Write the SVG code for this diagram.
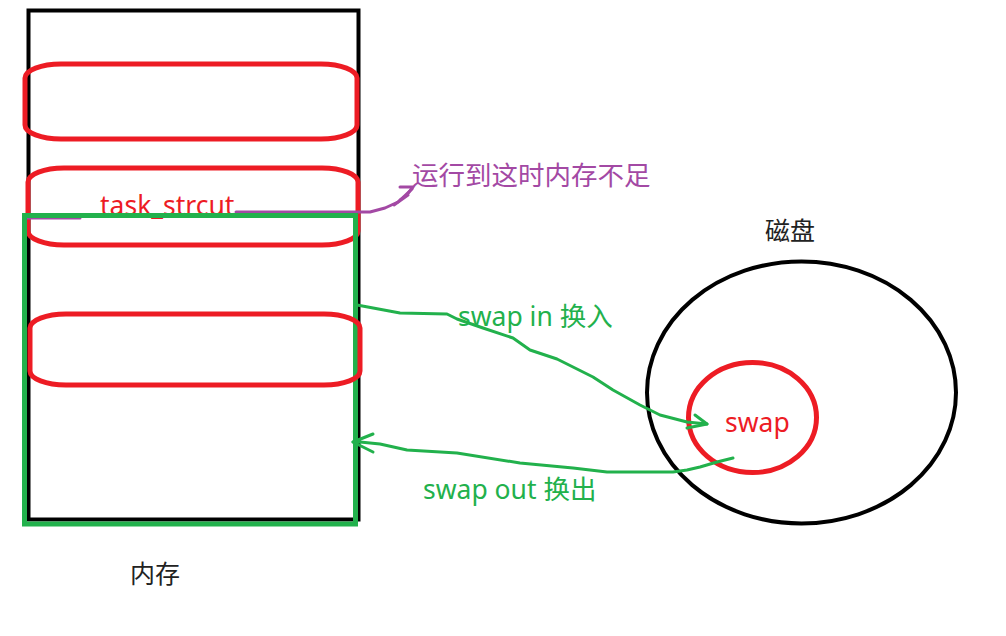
<svg xmlns="http://www.w3.org/2000/svg" width="1006" height="636" viewBox="0 0 1006 636">
<style>
.blk{fill:none;stroke:#000;stroke-width:4}
.grn{fill:none;stroke:#22b14c;stroke-width:5}
.red{fill:none;stroke:#ed1c24;stroke-width:5}
.conn{fill:none;stroke:#22b14c;stroke-width:3;stroke-linejoin:round;stroke-linecap:round}
.pur{fill:none;stroke:#a349a4;stroke-width:3;stroke-linejoin:round;stroke-linecap:round}
text{font-family:"Microsoft YaHei","Noto Sans","Noto Sans CJK SC",sans-serif}
.t-red{fill:#ed1c24;font-size:26.5px}
.t-grn{fill:#22b14c;font-size:26.5px}
.t-pur{fill:#a349a4;font-size:26.5px}
.t-blk{fill:#222;font-size:25px}
</style>
<rect width="1006" height="636" fill="#fff"/>
<g id="memory">
<rect class="blk" x="28.5" y="10.5" width="330" height="509"/>
<g id="block1"><rect class="red" x="25" y="64" width="332" height="75" rx="36" ry="14"/></g>
<g id="block2"><rect class="red" x="28" y="168" width="330" height="77" rx="36" ry="14"/>
<text class="t-red" x="100" y="215">task_strcut</text></g>
<g id="purple-note">
<path class="pur" d="M27,218 L80,218 M236,212 L370,212 L385,208 L398,202 L412,189"/>
<path class="pur" d="M400,187 L413,187 L406,196 M394,205 L408,195 L400,200"/>
<text class="t-pur" x="412" y="185">运行到这时内存不足</text>
</g>
<g id="swapped-area"><rect class="grn" x="24.5" y="215.5" width="331" height="308.5"/></g>
<g id="block3"><rect class="red" x="30" y="314" width="330" height="71" rx="36" ry="14"/></g>
<text class="t-blk" x="130" y="583">内存</text>
</g>
<g id="disk">
<ellipse class="blk" cx="801.5" cy="392.5" rx="154.5" ry="131"/>
<text class="t-blk" x="765" y="240">磁盘</text>
</g>
<g id="swap">
<ellipse class="red" cx="752.5" cy="417.5" rx="64" ry="55"/>
<text class="t-red" x="725" y="432">swap</text>
</g>
<g id="connectors">
<path class="conn" d="M357,305 L400,313 L447,314 L457,319 L483,328 L513,338 L530,350 L557,359 L573,367 L593,377 L613,390 L640,405 L660,415 L687,422 L707,424"/>
<path class="conn" d="M695,415 L707,424 L687,428"/>
<path class="conn" d="M733,458 L717,462 L700,467 L687,470 L673,472 L607,472 L573,468 L520,463 L457,453 L407,450 L380,444 L360,442 L353,442"/>
<path class="conn" d="M373,434 L353,442 L373,452"/>
<text class="t-grn" x="458" y="326">swap in 换入</text>
<text class="t-grn" x="423" y="499">swap out 换出</text>
</g>
</svg>
